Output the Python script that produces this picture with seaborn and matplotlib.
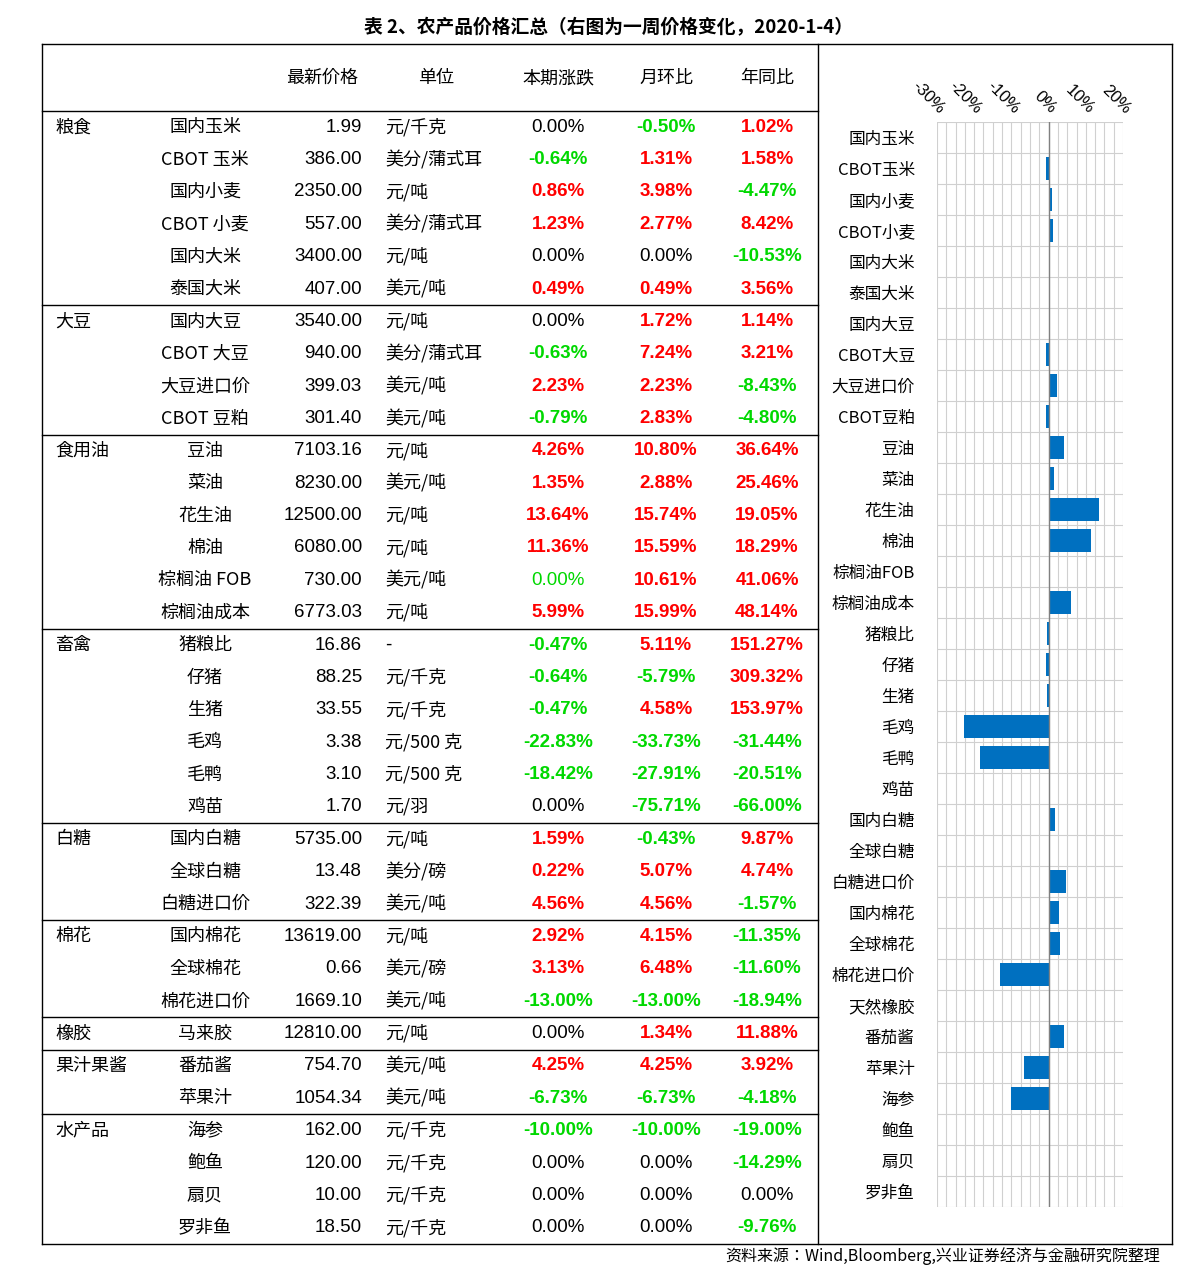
import matplotlib
matplotlib.use("Agg")
import matplotlib.pyplot as plt
from matplotlib.lines import Line2D
import seaborn as sns
import pandas as pd

groups = [("粮食", 6), ("大豆", 4), ("食用油", 6), ("畜禽", 6), ("白糖", 3), ("棉花", 3), ("橡胶", 1), ("果汁果酱", 2), ("水产品", 4)]
names = ["国内玉米", "CBOT 玉米", "国内小麦", "CBOT 小麦", "国内大米", "泰国大米",
         "国内大豆", "CBOT 大豆", "大豆进口价", "CBOT 豆粕",
         "豆油", "菜油", "花生油", "棉油", "棕榈油 FOB", "棕榈油成本",
         "猪粮比", "仔猪", "生猪", "毛鸡", "毛鸭", "鸡苗",
         "国内白糖", "全球白糖", "白糖进口价",
         "国内棉花", "全球棉花", "棉花进口价",
         "马来胶", "番茄酱", "苹果汁",
         "海参", "鲍鱼", "扇贝", "罗非鱼"]
bar_labels = ["国内玉米", "CBOT玉米", "国内小麦", "CBOT小麦", "国内大米", "泰国大米",
              "国内大豆", "CBOT大豆", "大豆进口价", "CBOT豆粕",
              "豆油", "菜油", "花生油", "棉油", "棕榈油FOB", "棕榈油成本",
              "猪粮比", "仔猪", "生猪", "毛鸡", "毛鸭", "鸡苗",
              "国内白糖", "全球白糖", "白糖进口价",
              "国内棉花", "全球棉花", "棉花进口价",
              "天然橡胶", "番茄酱", "苹果汁",
              "海参", "鲍鱼", "扇贝", "罗非鱼"]
prices = [1.99, 386.00, 2350.00, 557.00, 3400.00, 407.00,
          3540.00, 940.00, 399.03, 301.40,
          7103.16, 8230.00, 12500.00, 6080.00, 730.00, 6773.03,
          16.86, 88.25, 33.55, 3.38, 3.10, 1.70,
          5735.00, 13.48, 322.39,
          13619.00, 0.66, 1669.10,
          12810.00, 754.70, 1054.34,
          162.00, 120.00, 10.00, 18.50]
units = ["元/千克", "美分/蒲式耳", "元/吨", "美分/蒲式耳", "元/吨", "美元/吨",
         "元/吨", "美分/蒲式耳", "美元/吨", "美元/吨",
         "元/吨", "美元/吨", "元/吨", "元/吨", "美元/吨", "元/吨",
         "-", "元/千克", "元/千克", "元/500 克", "元/500 克", "元/羽",
         "元/吨", "美分/磅", "美元/吨",
         "元/吨", "美元/磅", "美元/吨",
         "元/吨", "美元/吨", "美元/吨",
         "元/千克", "元/千克", "元/千克", "元/千克"]
chg = [0.00, -0.64, 0.86, 1.23, 0.00, 0.49,
       0.00, -0.63, 2.23, -0.79,
       4.26, 1.35, 13.64, 11.36, 0.00, 5.99,
       -0.47, -0.64, -0.47, -22.83, -18.42, 0.00,
       1.59, 0.22, 4.56,
       2.92, 3.13, -13.00,
       0.00, 4.25, -6.73,
       -10.00, 0.00, 0.00, 0.00]
mom = [-0.50, 1.31, 3.98, 2.77, 0.00, 0.49,
       1.72, 7.24, 2.23, 2.83,
       10.80, 2.88, 15.74, 15.59, 10.61, 15.99,
       5.11, -5.79, 4.58, -33.73, -27.91, -75.71,
       -0.43, 5.07, 4.56,
       4.15, 6.48, -13.00,
       1.34, 4.25, -6.73,
       -10.00, 0.00, 0.00, 0.00]
yoy = [1.02, 1.58, -4.47, 8.42, -10.53, 3.56,
       1.14, 3.21, -8.43, -4.80,
       36.64, 25.46, 19.05, 18.29, 41.06, 48.14,
       151.27, 309.32, 153.97, -31.44, -20.51, -66.00,
       9.87, 4.74, -1.57,
       -11.35, -11.60, -18.94,
       11.88, 3.92, -4.18,
       -19.00, -14.29, 0.00, -9.76]
green_zero = [(14, 0)]  # 棕榈油 FOB 本期涨跌 shown green

W, H = 1191, 1285
RED, GREEN = "#FF0000", "#00D800"
CJK = ["Noto Sans CJK SC", "Noto Sans CJK JP", "Noto Sans CJK TC", "Noto Sans CJK KR", "DejaVu Sans"]
NUM = ["Liberation Sans", "DejaVu Sans"]
plt.rcParams["font.family"] = CJK
fig = plt.figure(figsize=(W / 100, H / 100), dpi=100)

def T(x, y, s, ha="left", fam=CJK, size=13, **kw):
    fig.text(x / W, 1 - y / H, s, ha=ha, va="center", family=fam, fontsize=size, **kw)

def L(x1, y1, x2, y2, lw=1.0, c="black"):
    fig.add_artist(Line2D([x1 / W, x2 / W], [1 - y1 / H, 1 - y2 / H], color=c, lw=lw, transform=fig.transFigure))

T(608, 28, "表 2、农产品价格汇总（右图为一周价格变化，2020-1-4）", ha="center", size=13.5, weight="bold")
T(1160, 1256, "资料来源：Wind,Bloomberg,兴业证券经济与金融研究院整理", ha="right", size=11.5)

for x, s in [(322, "最新价格"), (436, "单位"), (558, "本期涨跌"), (666, "月环比"), (767, "年同比")]:
    T(x, 78, s, ha="center")

top, rh = 111, 32.37
L(42, 44, 1172, 44); L(42, 1244, 1172, 1244); L(42, 44, 42, 1244); L(1172, 44, 1172, 1244); L(818, 44, 818, 1244)
L(42, top, 818, top)

def pct_col(v, x, y, i, j):
    s = f"{v:.2f}%"
    if (i, j) in green_zero:
        T(x, y, s, ha="center", fam=NUM, size=13.5, color=GREEN)
    elif v > 0:
        T(x, y, s, ha="center", fam=NUM, size=13.5, color=RED, weight="bold")
    elif v < 0:
        T(x, y, s, ha="center", fam=NUM, size=13.5, color=GREEN, weight="bold")
    else:
        T(x, y, s, ha="center", fam=NUM, size=13.5)

idx = 0
for g, n in groups:
    y0 = top + idx * rh
    T(55, y0 + rh / 2, g)
    for k in range(n):
        i = idx + k
        y = top + (i + 0.5) * rh
        T(205, y, names[i], ha="center")
        T(362, y, f"{prices[i]:.2f}", ha="right", fam=NUM, size=13.5)
        T(385, y, units[i])
        pct_col(chg[i], 558, y, i, 0)
        pct_col(mom[i], 666, y, i, 1)
        pct_col(yoy[i], 767, y, i, 2)
    idx += n
    if idx < len(names):
        L(42, top + idx * rh, 818, top + idx * rh)

# bar chart
ax = fig.add_axes([937 / W, 1 - 1207 / H, (1123 - 937) / W, (1207 - 122) / H])
df = pd.DataFrame({"label": bar_labels, "chg": chg})
sns.barplot(data=df, x="chg", y="label", orient="h", color="#0070C0", saturation=1, width=0.72, ax=ax, zorder=3)
ax.set_xlim(-30, 20)
ax.set_xticks([-30, -20, -10, 0, 10, 20])
ax.set_xticklabels(["-30%", "-20%", "-10%", "0%", "10%", "20%"], rotation=-45, ha="right", rotation_mode="anchor", family=NUM, fontsize=12)
ax.set_xticks([x / 2 for x in range(-60, 41, 5)], minor=True)
ax.xaxis.tick_top()
ax.tick_params(axis="x", which="both", length=0, pad=4)
ax.grid(axis="x", which="both", color="#d0d0d0", lw=0.8, zorder=0)
for k in range(len(bar_labels) + 1):
    ax.axhline(k - 0.5, color="#d0d0d0", lw=0.8, zorder=0)
ax.axvline(0, color="#808080", lw=1, zorder=4)
ax.set_ylim(len(bar_labels) - 0.5, -0.5)
ax.set_ylabel(""); ax.set_xlabel("")
ax.tick_params(axis="y", length=0, pad=16)
for t in ax.get_yticklabels():
    t.set_family(CJK); t.set_fontsize(12)
for sp in ax.spines.values():
    sp.set_visible(False)

fig.savefig("out.png", dpi=100)
